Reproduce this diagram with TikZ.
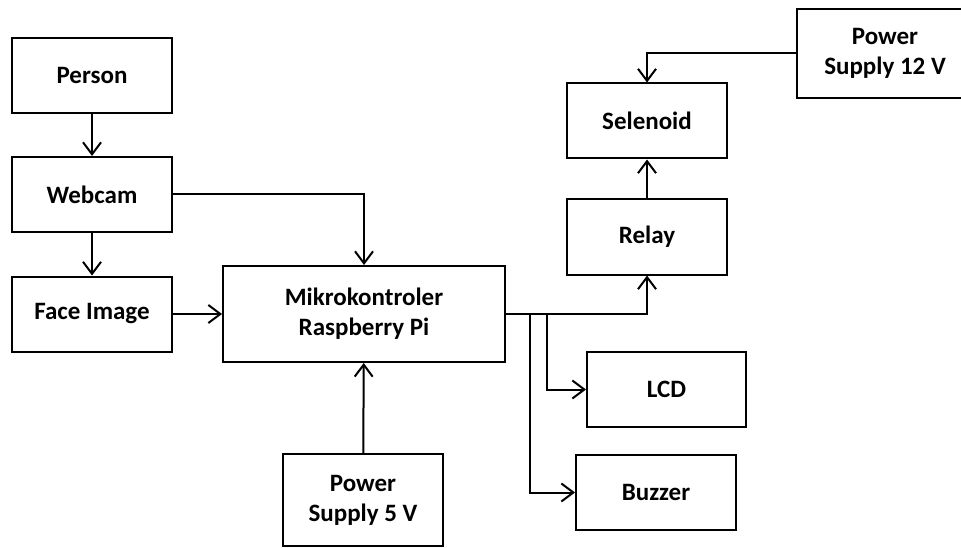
\documentclass[tikz,border=0pt]{standalone}
\usepackage{fontspec}
\setmainfont{Carlito}
\usepackage{tikz}
\usetikzlibrary{arrows.meta}
\usetikzlibrary{positioning}

\begin{document}
\begin{tikzpicture}[x=1pt,y=-1pt,
  block/.style={rectangle,draw,line width=2pt,align=center,
    minimum width=160pt,minimum height=75pt,inner sep=0pt,
    font=\fontsize{25}{30}\selectfont\bfseries},
  link/.style={->,line width=2pt},
]
\tikzset{>={Straight Barb[length=12pt,width=18pt,line width=2pt]}}
\useasboundingbox (0,0) rectangle (961,548);
\node[block](person) at(92,75.5){Person};
\node[block](webcam) at(92,194.5){Webcam};
\node[block](face) at(92,314){Face Image};
\node[block,minimum width=282pt,minimum height=96pt](mikro) at(364,314){Mikrokontroler\\Raspberry Pi};
\node[block,minimum height=92pt](ps5) at(363,500){Power\\Supply 5 V};
\node[block](relay) at(647,237){Relay};
\node[block](selenoid) at(647,121){Selenoid};
\node[block,minimum width=176pt,minimum height=89pt](ps12) at(885,53.5){Power\\Supply 12 V};
\node[block,minimum width=159pt](lcd) at(666.5,389.5){LCD};
\node[block](buzzer) at(656,492.5){Buzzer};
\coordinate(b1) at([xshift=41pt]mikro.east);
\coordinate(b2) at([xshift=24pt]mikro.east);
\draw[link](person)--(webcam);
\draw[link](webcam)--(face);
\draw[link](webcam.east)-|(mikro.north);
\draw[link](face)--(mikro);
\draw[link](ps5)--(mikro);
\draw[link](mikro.east)-|(relay.south);
\draw[link](relay)--(selenoid);
\draw[link](ps12.west)-|(selenoid.north);
\draw[link](b1)|-(lcd.west);
\draw[link](b2)|-(buzzer.west);
\end{tikzpicture}
\end{document}
